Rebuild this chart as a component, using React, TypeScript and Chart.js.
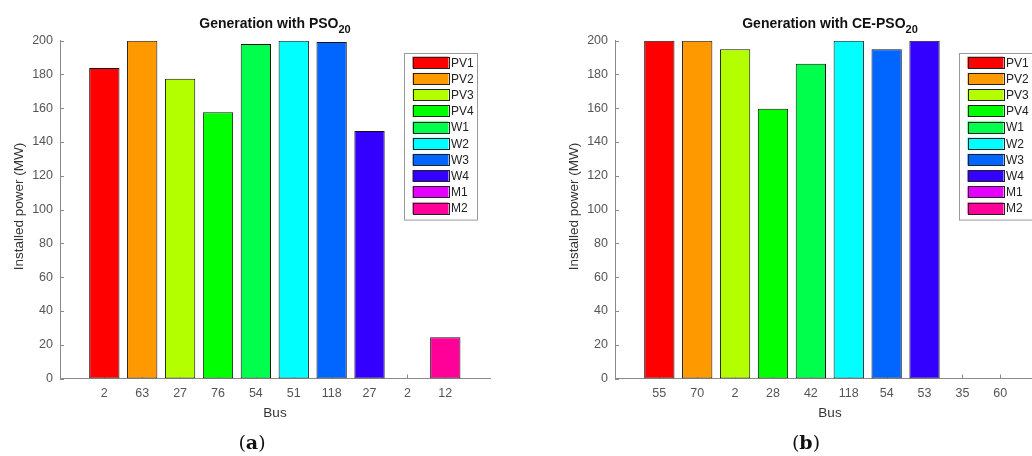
import React, { useEffect, useRef } from "react";
import { Chart, registerables } from "chart.js";

Chart.register(...registerables);

const BUS_A = ["2", "63", "27", "76", "54", "51", "118", "27", "2", "12"];
const POWER_A = [183.8, 200, 177.5, 157.6, 198, 200, 199.2, 146.5, 0, 24.4];
const BUS_B = ["55", "70", "2", "28", "42", "118", "54", "53", "35", "60"];
const POWER_B = [200, 200, 195, 159.7, 186.4, 200, 195, 200, 0, 0];
const UNITS = ["PV1", "PV2", "PV3", "PV4", "W1", "W2", "W3", "W4", "M1", "M2"];
const COLORS = ["#ff0000", "#ff9900", "#b3ff00", "#00ff00", "#00ff4d", "#00ffff", "#0066ff", "#3300ff", "#e600ff", "#ff0099"];
const Y_MIN = 0;
const Y_MAX = 200;
const Y_STEP = 20;

const FONT = "'Liberation Sans', Arial, sans-serif";
const AXIS_COLOR = "#8a8a8a";

const panelPlugin = {
  id: "panel",
  beforeDatasetsDraw(chart: any, _a: any, opts: any) {
    const { ctx, chartArea } = chart;
    const xs = chart.scales.x;
    const ys = chart.scales.y;
    ctx.save();
    ctx.strokeStyle = AXIS_COLOR;
    ctx.lineWidth = 1;
    ctx.beginPath();
    for (let v = Y_MIN; v <= Y_MAX; v += Y_STEP) {
      const y = Math.round(ys.getPixelForValue(v)) + 0.5;
      ctx.moveTo(chartArea.left, y);
      ctx.lineTo(chartArea.left + 4, y);
    }
    for (let i = 0; i < opts.labels.length; i++) {
      const x = Math.round(xs.getPixelForValue(i + 1)) + 0.5;
      ctx.moveTo(x, chartArea.bottom);
      ctx.lineTo(x, chartArea.bottom - 4);
    }
    ctx.stroke();
    ctx.restore();
  },
  afterDraw(chart: any, _a: any, opts: any) {
    const { ctx, chartArea } = chart;
    const cx = (chartArea.left + chartArea.right) / 2;
    ctx.save();
    // title
    ctx.fillStyle = "#111";
    ctx.textBaseline = "alphabetic";
    ctx.font = `bold 14px ${FONT}`;
    const w1 = ctx.measureText(opts.title).width;
    ctx.font = `bold 11px ${FONT}`;
    const w2 = ctx.measureText(opts.sub).width;
    const start = cx - (w1 + w2) / 2;
    ctx.font = `bold 14px ${FONT}`;
    ctx.textAlign = "left";
    ctx.fillText(opts.title, start, 28);
    ctx.font = `bold 11px ${FONT}`;
    ctx.fillText(opts.sub, start + w1, 32.5);
    // axis titles
    ctx.fillStyle = "#333";
    ctx.font = `13.5px ${FONT}`;
    ctx.textAlign = "center";
    ctx.textBaseline = "middle";
    ctx.fillText("Bus", cx, 413);
    ctx.save();
    ctx.translate(chartArea.left - 41, (chartArea.top + chartArea.bottom) / 2 - 3);
    ctx.rotate(-Math.PI / 2);
    ctx.fillText("Installed power (MW)", 0, 0);
    ctx.restore();
    // legend
    const lx = chartArea.left + 344;
    const ly = 52.7;
    const lw = 73;
    const lh = 166.6;
    ctx.fillStyle = "#fff";
    ctx.fillRect(lx, ly, lw, lh);
    ctx.strokeStyle = "#9a9a9a";
    ctx.lineWidth = 1;
    ctx.strokeRect(Math.round(lx) + 0.5, Math.round(ly) + 0.5, lw, lh);
    ctx.font = `12px ${FONT}`;
    ctx.textAlign = "left";
    ctx.textBaseline = "middle";
    for (let i = 0; i < UNITS.length; i++) {
      const sy = ly + 4 + i * 16.2;
      ctx.fillStyle = COLORS[i];
      ctx.fillRect(lx + 8.5, sy, 36, 11.7);
      ctx.strokeStyle = "#222";
      ctx.strokeRect(Math.round(lx + 8.5) + 0.5, Math.round(sy) + 0.5, 36, 11);
      ctx.fillStyle = "#222";
      ctx.fillText(UNITS[i], lx + 47, sy + 6.5);
    }
    ctx.restore();
  },
};

function Panel({ labels, values, title, sub, left }: any) {
  const ref = useRef<HTMLCanvasElement | null>(null);
  useEffect(() => {
    if (!ref.current) return;
    const chart = new Chart(ref.current, {
      type: "bar",
      data: {
        datasets: [
          {
            data: values.map((v: number, i: number) => ({ x: i + 1, y: v })),
            backgroundColor: COLORS,
            borderColor: "#111",
            borderWidth: 1,
            borderSkipped: false,
            barPercentage: 1,
            categoryPercentage: 0.8,
          },
        ],
      },
      options: {
        responsive: false,
        animation: false,
        devicePixelRatio: 1,
        layout: { padding: { left: 0, top: 40.7, right: 26, bottom: 37.5 } },
        plugins: {
          legend: { display: false },
          tooltip: { enabled: false },
          title: { display: false },
          panel: { title, sub, labels },
        } as any,
        scales: {
          x: {
            type: "linear",
            offset: false,
            min: -0.17,
            max: 11.18,
            grid: { display: false, drawTicks: false, offset: false },
            border: { display: true, color: AXIS_COLOR, width: 1 },
            afterBuildTicks: (s: any) => {
              s.ticks = labels.map((_: string, i: number) => ({ value: i + 1 }));
            },
            afterFit: (s: any) => {
              s.height = 40;
            },
            ticks: {
              autoSkip: false,
              maxRotation: 0,
              padding: 8,
              color: "#555",
              font: { family: FONT, size: 12.5 },
              callback: (_v: any, i: number) => labels[i],
            },
          },
          y: {
            min: Y_MIN,
            max: Y_MAX,
            grid: { display: false, drawTicks: false },
            border: { display: true, color: AXIS_COLOR, width: 1 },
            afterFit: (s: any) => {
              s.width = 60;
            },
            ticks: {
              stepSize: Y_STEP,
              padding: 7,
              color: "#555",
              font: { family: FONT, size: 12.5 },
            },
          },
        },
      },
      plugins: [panelPlugin as any],
    });
    return () => chart.destroy();
  }, []);
  return (
    <canvas
      ref={ref}
      width={516}
      height={456}
      style={{ position: "absolute", left, top: 0, width: 516, height: 456 }}
    />
  );
}

const capStyle: React.CSSProperties = {
  position: "absolute",
  top: 430,
  fontFamily: "'DejaVu Serif', 'Liberation Serif', serif",
  fontSize: 19,
  color: "#111",
  transform: "translateX(-50%)",
  whiteSpace: "nowrap",
  lineHeight: "24px",
};

export default function App() {
  return (
    <div
      style={{
        position: "absolute",
        left: 0,
        top: 0,
        width: 1032,
        height: 456,
        overflow: "hidden",
        background: "#fff",
      }}
    >
      <Panel labels={BUS_A} values={POWER_A} title="Generation with PSO" sub="20" left={0} />
      <Panel labels={BUS_B} values={POWER_B} title="Generation with CE-PSO" sub="20" left={554.7} />
      <div style={{ ...capStyle, left: 252 }}>
        (<b>a</b>)
      </div>
      <div style={{ ...capStyle, left: 806 }}>
        (<b>b</b>)
      </div>
    </div>
  );
}
